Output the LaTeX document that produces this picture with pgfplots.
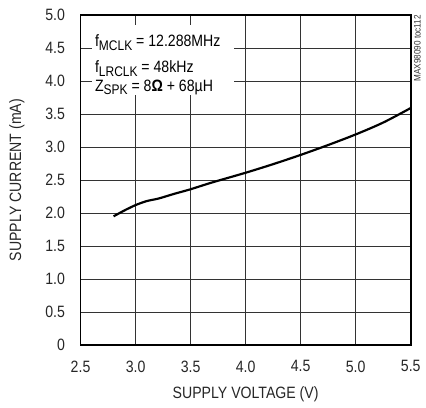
\documentclass[border=0pt]{standalone}
\usepackage{fontspec}
\setmainfont{Liberation Sans}
\newcommand{\nar}[1]{\scalebox{0.86}[1]{#1}}
\usepackage{pgfplots}
\pgfplotsset{compat=1.18}
\usetikzlibrary{calc}
\begin{document}
\fontsize{16.5bp}{19bp}\selectfont
\begin{tikzpicture}
\begin{axis}[
  name=ax,
  scale only axis,
  width=332bp, height=332bp,
  xmin=2.5, xmax=5.5, ymin=0, ymax=5,
  xtick={2.5,3.0,...,5.5},
  ytick={0,0.5,...,5.0},
  xticklabels={\nar{2.5},\nar{3.0},\nar{3.5},\nar{4.0},\nar{4.5},\nar{5.0},\nar{5.5}},
  yticklabels={\nar{0},\nar{0.5},\nar{1.0},\nar{1.5},\nar{2.0},\nar{2.5},\nar{3.0},\nar{3.5},\nar{4.0},\nar{4.5},\nar{5.0}},
  xmajorgrids, ymajorgrids,
  major grid style={draw=black!80, line width=0.8pt},
  axis line style={draw=black, line width=1.8pt},
  major tick length=0pt,
  tick label style={font=\fontsize{16.5bp}{19bp}\selectfont, text=black!85},
  /pgf/number format/assume math mode=true,
  xticklabel style={yshift=-10bp},
  yticklabel style={xshift=-10bp},
  xlabel={\nar{SUPPLY VOLTAGE (V)}},
  ylabel={\nar{SUPPLY CURRENT (mA)}},
  label style={font=\fontsize{16.5bp}{19bp}\selectfont, text=black!85},
  xlabel style={at={(axis description cs:0.5,-0.15)}, anchor=center},
  ylabel style={at={(axis description cs:-0.193,0.5)}, anchor=center},
  clip=false,
]
\addplot[black, line width=2.2pt, smooth, tension=0.5] coordinates {
  (2.80,1.95) (2.90,2.04) (3.00,2.12) (3.10,2.18) (3.21,2.22) (3.35,2.29)
  (3.50,2.36) (3.69,2.46) (4.00,2.61) (4.25,2.74) (4.50,2.88) (4.75,3.03)
  (5.00,3.19) (5.25,3.37) (5.50,3.59)
};
\node[fill=white, anchor=north west, inner sep=0pt, minimum width=143bp, minimum height=70bp] at (axis cs:2.6,4.85) {};
\node[anchor=west, inner sep=0pt] at (axis cs:2.63,4.58) {\nar{f\raisebox{-0.4ex}{\fontsize{14bp}{16bp}\selectfont MCLK} = 12.288MHz}};
\node[anchor=west, inner sep=0pt] at (axis cs:2.63,4.19) {\nar{f\raisebox{-0.4ex}{\fontsize{14bp}{16bp}\selectfont LRCLK} = 48kHz}};
\node[anchor=west, inner sep=0pt] at (axis cs:2.63,3.90) {\nar{Z\raisebox{-0.4ex}{\fontsize{14bp}{16bp}\selectfont SPK} = 8\textbf{Ω} + 68µH}};
\end{axis}
\node[rotate=90, anchor=north east, inner sep=0pt, font=\fontsize{9.5bp}{10bp}\selectfont, text=black!80] at ([xshift=3bp]ax.north east) {\nar{MAX98090 toc112}};
\path ($(ax.south west)+(-81bp,-60bp)$) rectangle ($(ax.north east)+(13bp,15bp)$);
\end{tikzpicture}
\end{document}
